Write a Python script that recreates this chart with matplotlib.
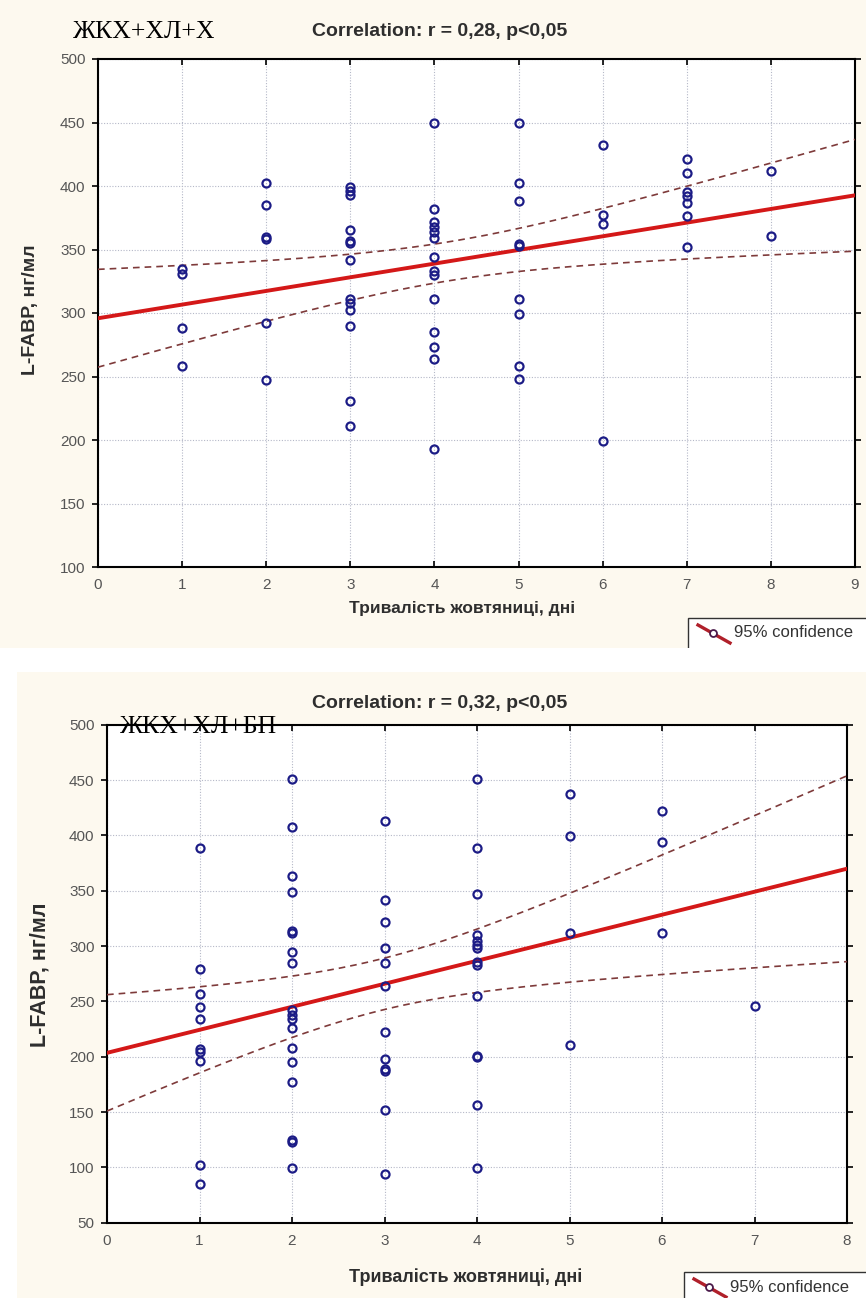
import numpy as np
import matplotlib
matplotlib.use("Agg")
import matplotlib.pyplot as plt
from matplotlib.patches import Rectangle
from matplotlib.lines import Line2D

# L-FABP vs jaundice duration, group ЖКХ+ХЛ+Х
days_a = [1] * 4 + [2] * 6 + [3] * 13 + [4] * 14 + [5] * 9 + [6] * 4 + [7] * 7 + [8] * 2
fabp_a = [335, 331, 288, 258,
          402, 385, 360, 358, 292, 247,
          399, 396, 393, 365, 357, 355, 342, 311, 308, 302, 290, 231, 211,
          450, 382, 372, 368, 364, 359, 344, 333, 330, 311, 285, 273, 264, 193,
          450, 402, 388, 354, 353, 311, 299, 258, 248,
          432, 377, 370, 199,
          421, 410, 395, 392, 387, 376, 352,
          412, 361]

# group ЖКХ+ХЛ+БП
days_b = [1] * 10 + [2] * 18 + [3] * 12 + [4] * 14 + [5] * 4 + [6] * 3 + [7] * 1
fabp_b = [389, 279, 257, 245, 234, 207, 204, 196, 102, 85,
          451, 408, 363, 349, 314, 312, 295, 285, 242, 238, 234, 226, 208, 195, 177, 125, 123, 99,
          413, 342, 322, 298, 285, 264, 222, 198, 189, 187, 152, 94,
          451, 389, 347, 310, 305, 301, 298, 286, 283, 255, 201, 200, 156, 99,
          437, 399, 312, 211,
          422, 394, 312,
          246]

groups = ["ЖКХ+ХЛ+Х", "ЖКХ+ХЛ+БП"]
titles = ["Correlation: r = 0,28, p<0,05", "Correlation: r = 0,32, p<0,05"]
xlabel = "Тривалість жовтяниці, дні"
ylabel = "L-FABP, нг/мл"
legend_text = "95% confidence"

CREAM = "#fdf9ef"
POINT = "#1c1c86"
LINE = "#d41818"
BAND = "#7e3a3a"
TICK = "#555555"
DARK = "#2e2e2e"


def fit_band(x, y, xs, t=2.01):
    x = np.asarray(x, float)
    y = np.asarray(y, float)
    b, a = np.polyfit(x, y, 1)
    resid = y - (a + b * x)
    n = len(x)
    s = np.sqrt(np.sum(resid ** 2) / (n - 2))
    sxx = np.sum((x - x.mean()) ** 2)
    yhat = a + b * xs
    half = t * s * np.sqrt(1.0 / n + (xs - x.mean()) ** 2 / sxx)
    return yhat, yhat - half, yhat + half


def draw_panel(ax, x, y, xmax, ymin, yticks):
    ax.set_zorder(1)
    xs = np.linspace(0, xmax, 200)
    yhat, lo, hi = fit_band(x, y, xs)
    ax.plot(xs, yhat, color=LINE, lw=2.8, zorder=3)
    ax.plot(xs, lo, color=BAND, lw=1.2, dashes=(4, 3), zorder=3)
    ax.plot(xs, hi, color=BAND, lw=1.2, dashes=(4, 3), zorder=3)
    ax.plot(x, y, "o", mfc="none", mec=POINT, mew=1.6, ms=5.8, zorder=4)
    ax.set_xlim(0, xmax)
    ax.set_ylim(ymin, 500)
    ax.set_xticks(range(0, xmax + 1))
    ax.set_yticks(yticks)
    ax.grid(True, color="#b5b8c8", lw=0.8, ls=(0, (1, 1.5)))
    ax.set_axisbelow(True)
    for sp in ax.spines.values():
        sp.set_linewidth(1.5)
    ax.tick_params(axis="both", labelsize=11, labelcolor=TICK, length=4, width=1.2)
    ax.tick_params(axis="x", direction="in", top=True, pad=8)
    ax.tick_params(axis="y", direction="out", right=True, pad=5)
    for lab in ax.get_xticklabels() + ax.get_yticklabels():
        lab.set_family("Liberation Sans")


def draw_legend(fig, x0, y0):
    # legend box sticking out past the right edge
    fig.patches.append(Rectangle((x0 / 866, 1 - (y0 + 32) / 1298), 0.3, 32 / 1298,
                                 transform=fig.transFigure, fc="white", ec="#333333",
                                 lw=1.0, zorder=5))
    lx = np.array([x0 + 10, x0 + 42]) / 866
    ly = 1 - np.array([y0 + 7, y0 + 25]) / 1298
    fig.add_artist(Line2D(lx, ly, color="#b0202a", lw=2.4, transform=fig.transFigure, zorder=6))
    fig.add_artist(Line2D([(x0 + 25) / 866], [1 - (y0 + 15) / 1298], marker="o", mfc="white",
                          mec="#4a1a4a", ms=5, mew=1.3, transform=fig.transFigure, zorder=7))
    fig.text((x0 + 46) / 866, 1 - (y0 + 15) / 1298, legend_text, fontsize=12,
             color="#333333", family="Liberation Sans", va="center", zorder=7)


fig = plt.figure(figsize=(8.66, 12.98), dpi=100)
fig.patch.set_facecolor("white")
fig.patches.append(Rectangle((0.0, 1 - 648 / 1298), 1.0, 648 / 1298,
                             transform=fig.transFigure, fc=CREAM, ec="none", zorder=-1))
fig.patches.append(Rectangle((17 / 866, 0.0), 1.0, 1 - 672 / 1298,
                             transform=fig.transFigure, fc=CREAM, ec="none", zorder=-1))

# top panel
ax1 = fig.add_axes([98 / 866, 1 - 567 / 1298, 757 / 866, 508 / 1298])
draw_panel(ax1, days_a, fabp_a, 9, 100, range(100, 501, 50))
fig.text(73 / 866, 1 - 32 / 1298, groups[0], fontsize=18.5, family="Liberation Serif",
         va="center", ha="left")
fig.text(440 / 866, 1 - 32 / 1298, titles[0], fontsize=14, weight="bold",
         family="Liberation Sans", color=DARK, va="center", ha="center")
fig.text(462 / 866, 1 - 609 / 1298, xlabel, fontsize=12.5, weight="bold",
         family="Liberation Sans", color=DARK, va="center", ha="center")
fig.text(31 / 866, 1 - 310 / 1298, ylabel, fontsize=14, weight="bold",
         family="Liberation Sans", color=DARK, va="center", ha="center", rotation=90)
draw_legend(fig, 688, 618)

# white gap between the two panels
fig.patches.append(Rectangle((0.0, 1 - 672 / 1298), 1.0, 24 / 1298,
                             transform=fig.transFigure, fc="white", ec="none", zorder=8))

# bottom panel
ax2 = fig.add_axes([107 / 866, 1 - 1222.7 / 1298, 740 / 866, 498 / 1298])
draw_panel(ax2, days_b, fabp_b, 8, 50, range(50, 501, 50))
fig.text(120 / 866, 1 - 727 / 1298, groups[1], fontsize=18.5, family="Liberation Serif",
         va="center", ha="left", zorder=9)
fig.text(440 / 866, 1 - 704 / 1298, titles[1], fontsize=14, weight="bold",
         family="Liberation Sans", color=DARK, va="center", ha="center")
fig.text(466 / 866, 1 - 1277 / 1298, xlabel, fontsize=13, weight="bold",
         family="Liberation Sans", color=DARK, va="center", ha="center")
fig.text(40 / 866, 1 - 975 / 1298, ylabel, fontsize=15.5, weight="bold",
         family="Liberation Sans", color=DARK, va="center", ha="center", rotation=90)
draw_legend(fig, 684, 1272)

fig.savefig("out.png", dpi=100, facecolor=fig.get_facecolor())
